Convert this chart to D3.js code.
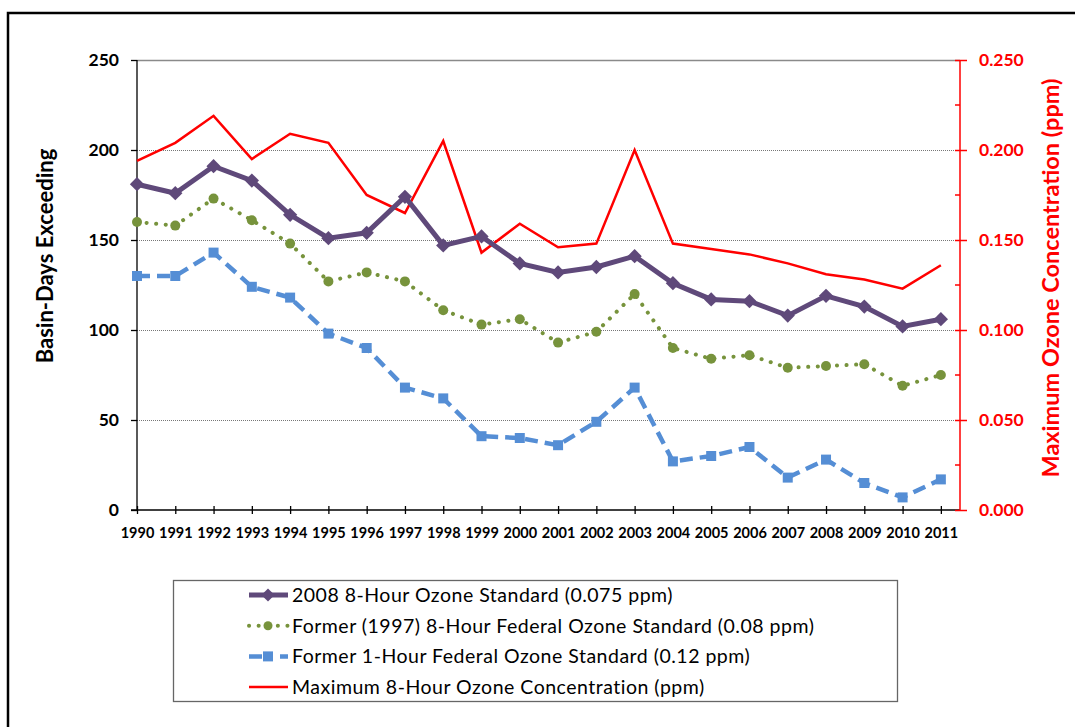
<!DOCTYPE html>
<html>
<head>
<meta charset="utf-8">
<script src="https://cdn.jsdelivr.net/npm/d3@7"></script>
<style>
  body { margin: 0; background: #fff; }
  svg { display: block; font-family: Lato, "Open Sans", sans-serif; }
</style>
</head>
<body>
<script>
// chart data
var years = [1990, 1991, 1992, 1993, 1994, 1995, 1996, 1997, 1998, 1999, 2000,
             2001, 2002, 2003, 2004, 2005, 2006, 2007, 2008, 2009, 2010, 2011];
var std2008 = [181, 176, 191, 183, 164, 151, 154, 174, 147, 152, 137,
               132, 135, 141, 126, 117, 116, 108, 119, 113, 102, 106];
var std1997 = [160, 158, 173, 161, 148, 127, 132, 127, 111, 103, 106,
               93, 99, 120, 90, 84, 86, 79, 80, 81, 69, 75];
var std1hr = [130, 130, 143, 124, 118, 98, 90, 68, 62, 41, 40,
              36, 49, 68, 27, 30, 35, 18, 28, 15, 7, 17];
var maxConc = [0.194, 0.204, 0.219, 0.195, 0.209, 0.204, 0.175, 0.165, 0.205, 0.143, 0.159,
               0.146, 0.148, 0.200, 0.148, 0.145, 0.142, 0.137, 0.131, 0.128, 0.123, 0.136];
var leftTicks = [0, 50, 100, 150, 200, 250];
var rightTicks = [0, 0.05, 0.10, 0.15, 0.20, 0.25];
var legendLabels = [
  "2008 8-Hour Ozone Standard (0.075 ppm)",
  "Former (1997) 8-Hour Federal Ozone Standard (0.08 ppm)",
  "Former 1-Hour Federal Ozone Standard (0.12 ppm)",
  "Maximum 8-Hour Ozone Concentration (ppm)"
];

var width = 1075, height = 727;
var plot = { left: 137, right: 960, top: 60, bottom: 510 };

var svg = d3.select("body").append("svg")
    .attr("width", width).attr("height", height);

// outer chart frame
svg.append("rect")
   .attr("x", 8).attr("y", 13)
   .attr("width", 1100).attr("height", 800)
   .attr("fill", "none").attr("stroke", "#000").attr("stroke-width", 2.5);

var x = d3.scaleLinear().domain([1990, 2011.5]).range([plot.left, plot.right]);
var yL = d3.scaleLinear().domain([0, 250]).range([plot.bottom, plot.top]);
var yR = d3.scaleLinear().domain([0, 0.25]).range([plot.bottom, plot.top]);

// gridlines
svg.append("g").selectAll("line")
   .data(leftTicks.filter(function(d) { return d > 0; }))
   .enter().append("line")
   .attr("x1", plot.left).attr("x2", plot.right)
   .attr("y1", function(d) { return Math.round(yL(d)) + 0.5; })
   .attr("y2", function(d) { return Math.round(yL(d)) + 0.5; })
   .attr("stroke", function(d) { return d == 250 ? "#8a8a8a" : "#777"; })
   .attr("stroke-width", function(d) { return d == 250 ? 1.5 : 1; })
   .attr("stroke-dasharray", function(d) { return d == 250 ? null : "1,1"; });

// left axis
var yaxisL = d3.axisLeft(yL).tickValues(leftTicks).tickSize(6).tickPadding(12);
var gl = svg.append("g")
   .attr("class", "yaxisL")
   .attr("transform", "translate(" + plot.left + ",0)")
   .call(yaxisL);
gl.selectAll("path, line").attr("stroke", "#000").attr("stroke-width", 1.3);
gl.select(".domain").attr("d", "M0," + plot.bottom + "V" + plot.top);
gl.selectAll("text").attr("font-size", 17.5).attr("font-weight", "bold")
   .attr("fill", "#000").attr("font-family", "Lato");

// x axis
var xaxis = d3.axisBottom(x).tickValues(years).tickFormat(d3.format("d"))
   .tickSizeInner(4).tickSizeOuter(0).tickPadding(14);
var gx = svg.append("g")
   .attr("class", "xaxis")
   .attr("transform", "translate(0," + plot.bottom + ")")
   .call(xaxis);
gx.selectAll("path, line").attr("stroke", "#000").attr("stroke-width", 1.3);
gx.select(".domain").attr("d", "M" + (plot.left - 6) + ",0H" + plot.right);
gx.selectAll(".tick line").attr("y1", -4);
gx.selectAll("text").attr("font-size", 14.5).attr("font-weight", "bold")
   .attr("fill", "#000").attr("font-family", "Lato");

// right axis
var yaxisR = d3.axisRight(yR).tickValues(rightTicks).tickFormat(d3.format(".3f"))
   .tickSize(7).tickPadding(12);
var gr = svg.append("g")
   .attr("class", "yaxisR")
   .attr("transform", "translate(" + plot.right + ",0)")
   .call(yaxisR);
gr.selectAll("path, line").attr("stroke", "#ff0000").attr("stroke-width", 1.5);
gr.select(".domain").attr("d", "M0," + plot.bottom + "V" + plot.top);
gr.selectAll(".tick line").attr("x1", -5);
gr.selectAll("text").attr("font-size", 17.5).attr("font-weight", "bold")
   .attr("fill", "#ff0000").attr("font-family", "Lato");
// minor ticks
gr.selectAll(".minor").data([0.025, 0.075, 0.125, 0.175, 0.225])
   .enter().append("line").attr("class", "minor")
   .attr("x1", -5).attr("x2", 0)
   .attr("y1", function(d) { return yR(d); })
   .attr("y2", function(d) { return yR(d); })
   .attr("stroke", "#ff0000").attr("stroke-width", 1.5);

// axis titles
svg.append("text")
   .attr("transform", "translate(53,256) rotate(-90)")
   .attr("text-anchor", "middle")
   .attr("font-size", 22).attr("font-weight", "bold")
   .text("Basin-Days Exceeding");

svg.append("text")
   .attr("transform", "translate(1059,278) rotate(-90)")
   .attr("text-anchor", "middle")
   .attr("font-size", 23.5).attr("font-weight", "bold").attr("fill", "#ff0000")
   .text("Maximum Ozone Concentration (ppm)");

// series lines
var lineL = d3.line()
   .x(function(d, i) { return x(years[i]); })
   .y(function(d) { return yL(d); });
var lineR = d3.line()
   .x(function(d, i) { return x(years[i]); })
   .y(function(d) { return yR(d); });

var purple = "#5f497a", green = "#77933c", blue = "#558ed5", red = "#ff0000";

svg.append("path").datum(std1hr).attr("d", lineL)
   .attr("fill", "none").attr("stroke", blue).attr("stroke-width", 4.5)
   .attr("stroke-dasharray", "13,7");
svg.append("path").datum(std1997).attr("d", lineL)
   .attr("fill", "none").attr("stroke", green).attr("stroke-width", 4)
   .attr("stroke-linecap", "round").attr("stroke-dasharray", "0.1,9.5");
svg.append("path").datum(maxConc).attr("d", lineR)
   .attr("fill", "none").attr("stroke", red).attr("stroke-width", 2.5);
svg.append("path").datum(std2008).attr("d", lineL)
   .attr("fill", "none").attr("stroke", purple).attr("stroke-width", 5);

// markers
svg.append("g").selectAll("rect").data(std1hr).enter().append("rect")
   .attr("x", function(d, i) { return x(years[i]) - 5; })
   .attr("y", function(d) { return yL(d) - 5; })
   .attr("width", 10).attr("height", 10).attr("fill", blue);
svg.append("g").selectAll("circle").data(std1997).enter().append("circle")
   .attr("cx", function(d, i) { return x(years[i]); })
   .attr("cy", function(d) { return yL(d); })
   .attr("r", 5).attr("fill", green);
svg.append("g").selectAll("path").data(std2008).enter().append("path")
   .attr("d", d3.symbol().type(d3.symbolDiamond2).size(130))
   .attr("transform", function(d, i) { return "translate(" + x(years[i]) + "," + yL(d) + ")"; })
   .attr("fill", purple);

// legend
var legend = svg.append("g").attr("class", "legend");
legend.append("rect")
   .attr("x", 173.5).attr("y", 580.5).attr("width", 724).attr("height", 121)
   .attr("fill", "#fff").attr("stroke", "#666").attr("stroke-width", 1.3);

var legendStyles = [
  { color: purple, w: 5, dash: null, cap: "butt", marker: "diamond" },
  { color: green, w: 4, dash: "0.1,9.5", cap: "round", marker: "circle" },
  { color: blue, w: 4.5, dash: "13,7,4,7", cap: "butt", marker: "square" },
  { color: red, w: 2.5, dash: null, cap: "butt", marker: null }
];
var rows = legend.selectAll(".row").data(legendLabels).enter().append("g")
   .attr("class", "row")
   .attr("transform", function(d, i) { return "translate(0," + (595 + i * 30.7) + ")"; });
rows.append("line")
   .attr("x1", 249).attr("x2", 288).attr("y1", 0).attr("y2", 0)
   .attr("stroke", function(d, i) { return legendStyles[i].color; })
   .attr("stroke-width", function(d, i) { return legendStyles[i].w; })
   .attr("stroke-dasharray", function(d, i) { return legendStyles[i].dash; })
   .attr("stroke-linecap", function(d, i) { return legendStyles[i].cap; });
rows.each(function(d, i) {
  var s = legendStyles[i], g = d3.select(this);
  if (s.marker == "diamond") {
    g.append("path").attr("d", d3.symbol().type(d3.symbolDiamond2).size(110))
     .attr("transform", "translate(268,0)").attr("fill", s.color);
  } else if (s.marker == "circle") {
    g.append("circle").attr("cx", 268).attr("cy", 0).attr("r", 4.5).attr("fill", s.color);
  } else if (s.marker == "square") {
    g.append("rect").attr("x", 263).attr("y", -5).attr("width", 10).attr("height", 10)
     .attr("fill", s.color);
  }
});
rows.append("text")
   .attr("x", 292).attr("y", 0).attr("dy", "0.35em")
   .attr("font-size", 19.5).attr("letter-spacing", 0.5).attr("fill", "#000")
   .text(function(d) { return d; });
</script>
</body>
</html>
